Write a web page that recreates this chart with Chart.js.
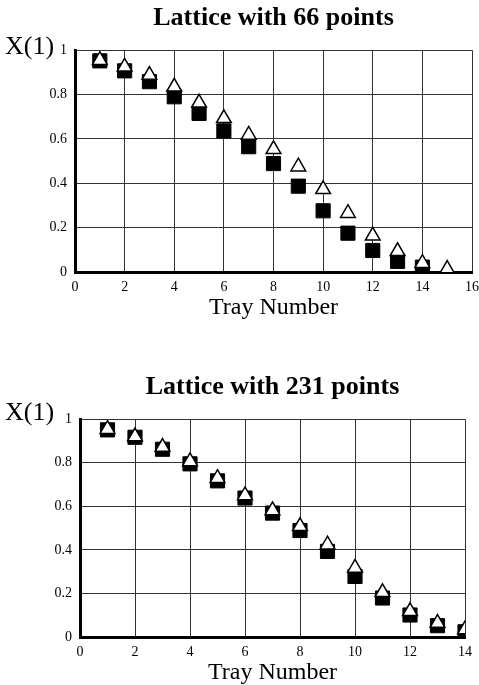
<!DOCTYPE html>
<html>
<head>
<meta charset="utf-8">
<script src="https://cdn.jsdelivr.net/npm/chart.js@4"></script>
<style>
  html, body { margin: 0; padding: 0; background: #fff; overflow: hidden; }
  #wrap66 { position: absolute; left: 0; top: 0; width: 479px; height: 330px; }
  #wrap231 { position: absolute; left: 0; top: 360px; width: 479px; height: 325px; }
</style>
</head>
<body>
<div id="wrap66"><canvas id="chart66"></canvas></div>
<div id="wrap231"><canvas id="chart231"></canvas></div>
<script>
// Lattice with 66 points
const trays66 = [1, 2, 3, 4, 5, 6, 7, 8, 9, 10, 11, 12, 13, 14, 15];
const squares66 = [0.952, 0.907, 0.858, 0.79, 0.715, 0.636, 0.565, 0.489, 0.387, 0.276, 0.175, 0.097, 0.048, 0.022];
const triangles66 = [0.955, 0.925, 0.888, 0.835, 0.763, 0.693, 0.618, 0.553, 0.475, 0.373, 0.265, 0.163, 0.093, 0.04, 0.013];
const xTicks66 = [0, 2, 4, 6, 8, 10, 12, 14, 16];

// Lattice with 231 points
const trays231 = [1, 2, 3, 4, 5, 6, 7, 8, 9, 10, 11, 12, 13, 14];
const squares231 = [0.951, 0.917, 0.862, 0.795, 0.717, 0.638, 0.569, 0.489, 0.393, 0.278, 0.179, 0.101, 0.052, 0.024];
const triangles231 = [0.954, 0.92, 0.872, 0.806, 0.729, 0.65, 0.581, 0.508, 0.424, 0.317, 0.205, 0.118, 0.064, 0.034];
const xTicks231 = [0, 2, 4, 6, 8, 10, 12, 14];

const yTicks = [0, 0.2, 0.4, 0.6, 0.8, 1];

const serif = "'Liberation Serif', 'Times New Roman', serif";

function toPoints(xs, ys) {
    return ys.map((y, i) => ({ x: xs[i], y: y }));
}

// draws the "X(1)" label in the top left corner
const yLabelPlugin = {
    id: 'yLabel',
    afterDraw(chart, args, opts) {
        const ctx = chart.ctx;
        ctx.save();
        ctx.font = "26px " + serif;
        ctx.fillStyle = "#000";
        ctx.textBaseline = "middle";
        ctx.textAlign = "left";
        ctx.fillText("X(1)", opts.x, opts.y);
        ctx.restore();
    }
};

function makeChart(id, cfg) {
    return new Chart(document.getElementById(id), {
        type: 'scatter',
        data: {
            datasets: [{
                label: 'triangles',
                data: toPoints(cfg.trays, cfg.triangles),
                pointStyle: 'triangle',
                pointRadius: 8.5,
                backgroundColor: '#fff',
                borderColor: '#000',
                borderWidth: 1.5
            }, {
                label: 'squares',
                data: toPoints(cfg.trays, cfg.squares),
                pointStyle: 'rect',
                pointRadius: 10,
                backgroundColor: '#000',
                borderColor: '#000',
                borderWidth: 1
            }]
        },
        options: {
            responsive: true,
            maintainAspectRatio: false,
            animation: false,
            events: [],
            layout: {
                autoPadding: false, // markers may overhang the plot edge
                padding: { left: 0, right: cfg.padRight, top: 0, bottom: 0 }
            },
            plugins: {
                legend: { display: false },
                tooltip: { enabled: false },
                title: {
                    display: true,
                    text: cfg.title,
                    fullSize: false,
                    color: '#000',
                    font: { family: serif, size: 26, weight: 'bold', lineHeight: 1.2 },
                    padding: { top: cfg.titleTop, bottom: cfg.titleBottom }
                },
                yLabel: { x: 5, y: cfg.labelY }
            },
            scales: {
                x: {
                    type: 'linear',
                    min: cfg.xTicks[0],
                    max: cfg.xTicks[cfg.xTicks.length - 1],
                    afterFit: (scale) => {
                        scale.height = cfg.xHeight;
                        scale.paddingRight = 0; // last tick label may hang into the margin
                    },
                    afterBuildTicks: (scale) => { scale.ticks = cfg.xTicks.map(v => ({ value: v })); },
                    ticks: {
                        color: '#000',
                        padding: 7,
                        font: { family: serif, size: 14 }
                    },
                    grid: { color: '#333', lineWidth: 1, drawTicks: false },
                    border: { color: '#000', width: 3 },
                    title: {
                        display: true,
                        text: 'Tray Number',
                        color: '#000',
                        font: { family: serif, size: 24, lineHeight: 1 },
                        padding: { top: 0, bottom: cfg.xTitleBottom }
                    }
                },
                y: {
                    min: 0,
                    max: 1,
                    afterFit: (scale) => { scale.width = cfg.yWidth; },
                    afterBuildTicks: (scale) => { scale.ticks = yTicks.map(v => ({ value: v })); },
                    ticks: {
                        color: '#000',
                        padding: 8,
                        font: { family: serif, size: 14 },
                        callback: (v) => (v === 0 || v === 1) ? String(v) : v.toFixed(1)
                    },
                    grid: { color: '#333', lineWidth: 1, drawTicks: false },
                    border: { color: '#000', width: 3 }
                }
            }
        },
        plugins: [yLabelPlugin]
    });
}

makeChart("chart66", {
    title: "Lattice with 66 points",
    trays: trays66, squares: squares66, triangles: triangles66, xTicks: xTicks66,
    padRight: 7, titleTop: 3, titleBottom: 16, xHeight: 58, xTitleBottom: 10, yWidth: 75, labelY: 47
});

makeChart("chart231", {
    title: "Lattice with 231 points",
    trays: trays231, squares: squares231, triangles: triangles231, xTicks: xTicks231,
    padRight: 14, titleTop: 12, titleBottom: 16, xHeight: 48, xTitleBottom: 0, yWidth: 80, labelY: 53
});
</script>
</body>
</html>
